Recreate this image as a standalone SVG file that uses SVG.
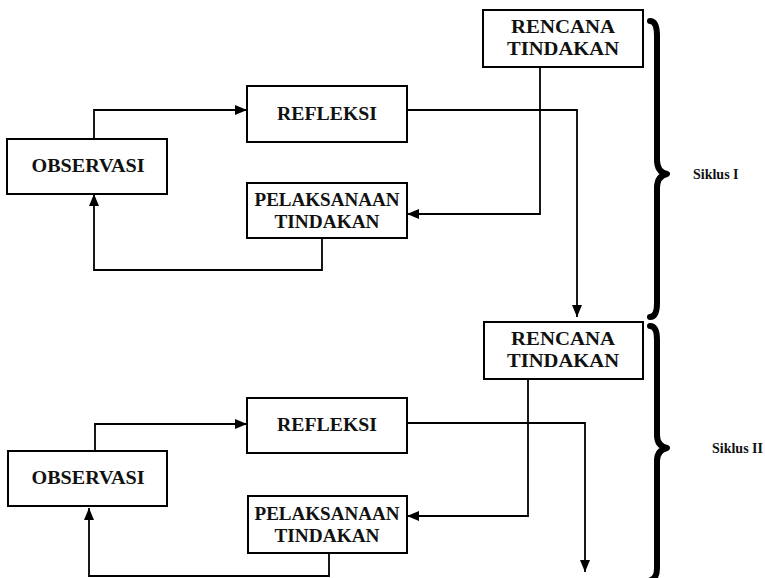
<svg xmlns="http://www.w3.org/2000/svg" width="765" height="578" viewBox="0 0 765 578">
<defs>
<marker id="ah" viewBox="0 0 12 10" refX="12" refY="5" markerWidth="12" markerHeight="10" markerUnits="userSpaceOnUse" orient="auto">
<path d="M0,0 L12,5 L0,10 Z" fill="#000"/>
</marker>
<style>
.box{fill:#fff;stroke:#000;stroke-width:2}
.t{font-family:"Liberation Serif","DejaVu Serif",serif;font-size:18px;font-weight:bold;fill:#111;text-anchor:middle}
.s{font-family:"Liberation Serif","DejaVu Serif",serif;font-size:14px;font-weight:bold;fill:#111}
.c{fill:none;stroke:#000;stroke-width:1.8}
.br{fill:none;stroke:#000;stroke-width:6;stroke-linecap:round;stroke-linejoin:round}
</style>
</defs>
<rect width="765" height="578" fill="#fff"/>
<g id="connectors">
<path class="c" d="M94,139 V110 H247" marker-end="url(#ah)"/>
<path class="c" d="M540,67 V214 H407" marker-end="url(#ah)"/>
<path class="c" d="M322,238 V270 H94 V194" marker-end="url(#ah)"/>
<path class="c" d="M407,110 H577 V317" marker-end="url(#ah)"/>
<path class="c" d="M95,451 V424 H247" marker-end="url(#ah)"/>
<path class="c" d="M528,379 V516 H407" marker-end="url(#ah)"/>
<path class="c" d="M329,553 V576 H89 V508" marker-end="url(#ah)"/>
<path class="c" d="M407,423 H585 V572" marker-end="url(#ah)"/>
</g>
<g id="rencana1"><rect class="box" x="483" y="10" width="160" height="57"/><text class="t" x="563" y="33" textLength="104" lengthAdjust="spacingAndGlyphs">RENCANA</text><text class="t" x="563" y="55" textLength="112" lengthAdjust="spacingAndGlyphs">TINDAKAN</text></g>
<g id="refleksi1"><rect class="box" x="247" y="86" width="160" height="56"/><text class="t" x="327" y="120" textLength="100" lengthAdjust="spacingAndGlyphs">REFLEKSI</text></g>
<g id="observasi1"><rect class="box" x="7" y="139" width="160" height="55"/><text class="t" x="88" y="172" textLength="113" lengthAdjust="spacingAndGlyphs">OBSERVASI</text></g>
<g id="pelaksanaan1"><rect class="box" x="247" y="183" width="160" height="55"/><text class="t" x="327" y="206" textLength="145" lengthAdjust="spacingAndGlyphs">PELAKSANAAN</text><text class="t" x="327" y="228" textLength="105" lengthAdjust="spacingAndGlyphs">TINDAKAN</text></g>
<g id="rencana2"><rect class="box" x="484" y="322" width="159" height="57"/><text class="t" x="563" y="345" textLength="104" lengthAdjust="spacingAndGlyphs">RENCANA</text><text class="t" x="563" y="367" textLength="112" lengthAdjust="spacingAndGlyphs">TINDAKAN</text></g>
<g id="refleksi2"><rect class="box" x="247" y="398" width="160" height="55"/><text class="t" x="327" y="431" textLength="100" lengthAdjust="spacingAndGlyphs">REFLEKSI</text></g>
<g id="observasi2"><rect class="box" x="8" y="451" width="159" height="55"/><text class="t" x="88" y="484" textLength="113" lengthAdjust="spacingAndGlyphs">OBSERVASI</text></g>
<g id="pelaksanaan2"><rect class="box" x="248" y="496" width="159" height="57"/><text class="t" x="327" y="520" textLength="145" lengthAdjust="spacingAndGlyphs">PELAKSANAAN</text><text class="t" x="327" y="542" textLength="105" lengthAdjust="spacingAndGlyphs">TINDAKAN</text></g>
<g id="siklus1"><path class="br" d="M650,21 Q657,21 657,36 L657,160 Q657,172 667,174 Q657,176 657,188 L657,303 Q657,317 650,317"/><text class="s" x="693" y="179">Siklus I</text></g>
<g id="siklus2"><path class="br" d="M650,326 Q657,326 657,340 L657,435 Q657,446 667,448 Q657,450 657,461 L657,568 Q657,578 651,580"/><text class="s" x="712" y="453">Siklus II</text></g>
</svg>
